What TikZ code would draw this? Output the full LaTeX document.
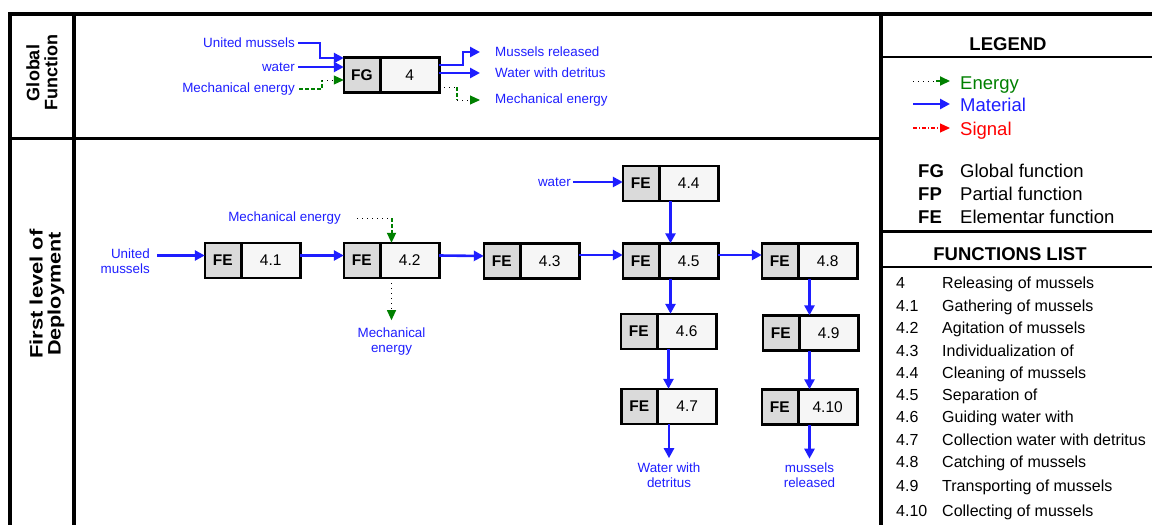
\documentclass[tikz,border=0pt]{standalone}
\usepackage{fontspec}
\setmainfont{Liberation Sans}
\usepackage{graphicx}
\usetikzlibrary{arrows.meta,positioning}
\definecolor{matblue}{RGB}{30,30,255}
\definecolor{energygreen}{RGB}{0,128,0}
\definecolor{signalred}{RGB}{255,0,0}
\definecolor{cellgray}{RGB}{218,218,218}
\definecolor{cellwhite}{RGB}{246,246,246}
\newcommand{\lblfont}{\fontsize{13.4}{15}\selectfont}
\newcommand{\boxfont}{\fontsize{15.5}{17}\selectfont}
\newcommand{\legfont}{\fontsize{18.5}{20}\selectfont}
\newcommand{\listfont}{\fontsize{16}{18}\selectfont}
\newcommand{\sidefont}{\fontsize{18}{18}\selectfont}
\tikzstyle{lbl} = [font=\lblfont, text=matblue, inner sep=0pt]
\tikzstyle{fnframe} = [minimum width=95pt, minimum height=35pt, inner sep=0pt]
\tikzstyle{codecell} = [draw, line width=2.6pt, fill=cellgray, minimum width=36pt, minimum height=35pt, inner sep=0pt, outer sep=0pt, font=\boxfont\bfseries]
\tikzstyle{numcell} = [draw, line width=2.6pt, fill=cellwhite, minimum width=59pt, minimum height=35pt, inner sep=0pt, outer sep=0pt, font=\boxfont]
\tikzstyle{material} = [draw=matblue, line width=2.6pt, -{Triangle[length=10pt,width=10pt]}]
\tikzstyle{energydot} = [draw=black, line width=1pt, dash pattern=on 1pt off 4pt]
\tikzstyle{energy} = [energydot, -{Triangle[length=10pt,width=9pt,color=energygreen]}]
\tikzstyle{energyseg} = [draw=energygreen, line width=2pt, dash pattern=on 4pt off 2pt]
\tikzstyle{energyend} = [energyseg, -{Triangle[length=10pt,width=9pt,color=energygreen]}]
\tikzstyle{signal} = [draw=signalred, line width=1.2pt, dash pattern=on 4pt off 2pt on 1pt off 2pt, -{Triangle[length=10pt,width=9pt]}]
\tikzstyle{frame} = [line width=4pt]
\tikzstyle{rule} = [line width=2.4pt]
\tikzstyle{side} = [font=\sidefont\bfseries, rotate=90, align=center, inner sep=0pt]
\tikzstyle{head} = [font=\legfont\bfseries, inner sep=0pt]
\tikzstyle{legtxt} = [font=\legfont, anchor=west, inner sep=0pt, text height=.75em, text depth=.2em]
\tikzstyle{listtxt} = [font=\listfont, anchor=west, inner sep=0pt, text height=.75em, text depth=.2em]
% function block: frame, code cell and number cell
\newcommand{\fnbox}[4]{%
  \node [fnframe] (#1) at (#2) {};
  \node [codecell, anchor=west] (#1c) at (#1.west) {#3};
  \node [numcell, anchor=east] (#1n) at (#1.east) {#4};
}
\begin{document}
\begin{tikzpicture}[x=1pt, y=-1pt, >=Triangle]
    \useasboundingbox (0,0) rectangle (1152,525);
    % Frame and sections
    \draw [frame] (9.5,525) -- (9.5,13.5) -- (1152,13.5);
    \draw [frame] (73.5,13.5) -- (73.5,525);
    \draw [frame] (880.5,13.5) -- (880.5,525);
    \draw [rule] (11,138.5) -- (880.5,138.5);
    \draw [rule] (880.5,57) -- (1152,57);
    \draw [frame, line width=3pt] (880.5,231) -- (1152,231);
    \draw [rule] (880.5,267) -- (1152,267);
    \node [side] (glob) at (42,73) {Global\\Function};
    \node [side] (deploy) at (47,294) {\scalebox{1.22}[1]{First level of}\\\scalebox{1.2}[1]{Deployment}};

    % Global function
    \fnbox{fg}{391.5,75}{FG}{4}
    \node [lbl, anchor=east] (umin) at (295,43) {United mussels};
    \node [lbl, anchor=east] (wtin) at (295,67) {water};
    \node [lbl, anchor=east] (mein) at (295,89) {Mechanical energy};
    \node [lbl, anchor=west] (mrout) at (495,52) {Mussels released};
    \node [lbl, anchor=west] (wdout) at (495,73) {Water with detritus};
    \node [lbl, anchor=west] (meout) at (495,100) {Mechanical energy};
    \coordinate (umk) at (320,58);
    \coordinate (mek) at (322,80);
    \coordinate (mrk) at (463,65);
    \coordinate (mok) at (457,87);
    \draw [material] ([xshift=3pt]umin.east) -| (umk) -- (umk -| fg.west);
    \draw [material] ([xshift=3pt]wtin.east) -- (wtin.east -| fg.west);
    \draw [energyseg] ([xshift=4pt]mein.east) -| (mek);
    \draw [energy] (mek) -- (mek -| fg.west);
    \draw [material] (fg.east |- mrk) -- (mrk) |- ([xshift=-15pt]mrout.west);
    \draw [material] (fg.east |- wdout.west) -- ([xshift=-15pt]wdout.west);
    \draw [energydot] (fg.east |- mok) -- (mok);
    \draw [energyseg] (mok) -- (mok |- meout.west);
    \draw [energy] (mok |- meout.west) -- ([xshift=-15pt]meout.west);

    % First level of deployment
    \fnbox{b41}{252.5,260.5}{FE}{4.1}
    \fnbox{b42}{391.5,260.5}{FE}{4.2}
    \fnbox{b43}{531.5,261}{FE}{4.3}
    \fnbox{b44}{670.5,183.5}{FE}{4.4}
    \fnbox{b45}{670.5,261}{FE}{4.5}
    \fnbox{b46}{668.5,331.5}{FE}{4.6}
    \fnbox{b47}{669,406.5}{FE}{4.7}
    \fnbox{b48}{809.5,261}{FE}{4.8}
    \fnbox{b49}{810.5,333}{FE}{4.9}
    \fnbox{b410}{809.5,407}{FE}{4.10}
    \node [lbl, anchor=east, align=right] (um41) at (150,261) {United\\mussels};
    \node [lbl, anchor=east] (wt44) at (571,182) {water};
    \node [lbl, anchor=east] (me42) at (341,218) {Mechanical energy};
    \node [lbl, align=center, below=49pt of b42] (me42o) {Mechanical\\energy};
    \node [lbl, align=center, below=38pt of b47] (wd47) {Water with\\detritus};
    \node [lbl, align=center, below=38pt of b410] (mr410) {mussels\\released};

    % Connectors
    \draw [material] ([xshift=7pt]um41.east |- 0,255.5) -- ([yshift=5pt]b41.west);
    \draw [material] ([yshift=5pt]b41.east) -- ([yshift=5pt]b42.west);
    \draw [material] ([yshift=5pt]b42.east) -- ([yshift=5pt]b43.west);
    \draw [material] ([yshift=6pt]b43.east) -- ([yshift=6pt]b45.west);
    \draw [material] ([yshift=6pt]b45.east) -- ([yshift=6pt]b48.west);
    \draw [material] ([xshift=2pt]wt44.east) -- (wt44.east -| b44.west);
    \draw [material] (b44.south) -- (b45.north);
    \draw [material] (b45.south) -- (b45.south |- b46.north);
    \draw [material] (b46.south) -- (b46.south |- b47.north);
    \draw [material] (b48.south) -- (b48.south |- b49.north);
    \draw [material] (b49.south -| b410) -- (b410.north);
    \draw [material] (b47.south) -- ([yshift=4pt]wd47.north);
    \draw [material] (b410.south) -- ([yshift=4pt]mr410.north);
    \draw [energydot] ([xshift=16pt]me42.east) -- (b42.north |- me42.east);
    \draw [energyend] (b42.north |- me42.east) -- (b42.north);
    \draw [energy] ([yshift=-5pt]b42.south) -- ([yshift=7pt]me42o.north);

    % Legend
    \node [head] (lghead) at (1008,44) {LEGEND};
    \node [legtxt, text=energygreen] (lgE) at (960,87) {Energy};
    \node [legtxt, text=matblue] (lgM) at (960,109) {Material};
    \node [legtxt, text=signalred] (lgS) at (960,133) {Signal};
    \coordinate (lgEs) at (913,81);
    \coordinate (lgEk) at (936,81);
    \coordinate (lgEt) at (950,81);
    \coordinate (lgMs) at (913,104);
    \coordinate (lgMt) at (950,104);
    \coordinate (lgSs) at (913,128);
    \coordinate (lgSt) at (950,128);
    \draw [energydot] (lgEs) -- (lgEk);
    \draw [energyend] (lgEk) -- (lgEt);
    \draw [material] (lgMs) -- (lgMt);
    \draw [signal] (lgSs) -- (lgSt);
    \foreach \code/\desc/\yy [count=\i] in {FG/Global function/175, FP/Partial function/198, FE/Elementar function/221} {
        \node [legtxt, font=\legfont\bfseries] (lc\i) at (918,\yy) {\code};
        \node [legtxt] (ld\i) at (960,\yy) {\desc};
    }

    % Functions list
    \node [head] (flhead) at (1010,254) {FUNCTIONS LIST};
    \foreach \num/\desc/\yy [count=\i] in {4/Releasing of mussels/286, 4.1/Gathering of mussels/309,
        4.2/Agitation of mussels/331, 4.3/Individualization of/354, 4.4/Cleaning of mussels/376,
        4.5/Separation of/398, 4.6/Guiding water with/420, 4.7/Collection water with detritus/443,
        4.8/Catching of mussels/465, 4.9/Transporting of mussels/489, 4.10/Collecting of mussels/514} {
        \node [listtxt] (fn\i) at (896,\yy) {\num};
        \node [listtxt] (fd\i) at (942,\yy) {\desc};
    }
\end{tikzpicture}
\end{document}
